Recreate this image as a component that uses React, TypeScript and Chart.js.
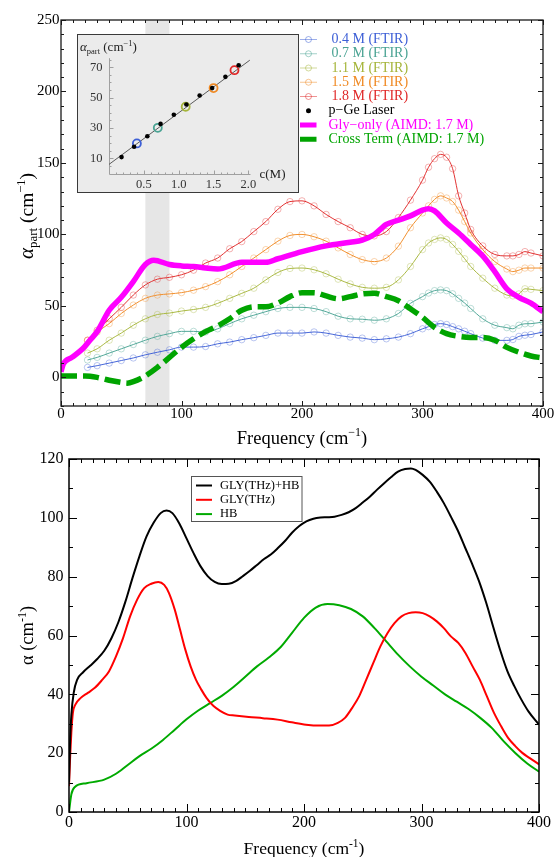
import React, { useEffect, useRef } from "react";
import { Chart, registerables } from "chart.js";

Chart.register(...registerables);

const SERIF = '"Liberation Serif", "Times New Roman", Times, serif';

// ---------------- Top panel data ----------------
const TOP_X_TICKS = [0, 100, 200, 300, 400];
const TOP_Y_TICKS = [0, 50, 100, 150, 200, 250];
const BAND_RANGE = [70, 90];

const GLY_FREQ = [0, 2, 9, 18, 24, 30, 40, 50, 60, 70, 77, 90, 100, 110, 120, 130, 150, 170, 180, 200, 220, 240, 250, 260, 270, 280, 290, 300, 305, 310, 320, 330, 340, 350, 360, 370, 380, 390, 400];
const GLY_ONLY = [4, 9.5, 14, 20, 26, 32, 47, 56, 67, 79, 82, 79, 78, 77.6, 76.5, 75.8, 80.5, 80.5, 83, 88, 92, 94.6, 96, 100, 107, 110, 113, 117, 118, 116.5, 108, 101, 93, 85, 74, 62, 56, 52, 46];

const CROSS_FREQ = [0, 20, 30, 40, 50, 55, 60, 70, 80, 90, 100, 110, 120, 130, 140, 150, 160, 170, 180, 190, 200, 210, 220, 230, 240, 250, 260, 270, 280, 290, 300, 310, 320, 330, 340, 350, 360, 370, 380, 390, 400];
const CROSS_TERM = [1, 1, 0, -2, -3.5, -4, -3, 1, 7, 14, 21, 27, 32, 36, 41, 47, 49.4, 49.4, 52, 56.5, 59.3, 59.3, 57, 55, 56.5, 58.4, 58.8, 56.5, 53.6, 48, 42, 35, 30.6, 28.7, 28, 28, 26, 21, 17.6, 15, 13.6];

const FTIR_FREQ = [22, 30, 40, 50, 60, 70, 80, 90, 100, 110, 120, 130, 140, 150, 160, 170, 180, 190, 200, 210, 220, 230, 240, 250, 260, 270, 280, 290, 300, 305, 310, 315, 320, 325, 330, 335, 340, 350, 360, 370, 375, 380, 385, 390, 400];
const FTIR_04 = [7, 8.2, 10, 11.8, 13.6, 15.8, 17.6, 19.3, 21.2, 21.2, 21.6, 23.5, 24.7, 26.4, 27.8, 29.4, 31, 31, 31, 31.8, 31, 29.4, 28.2, 27.5, 26.4, 27, 28.2, 30.6, 34, 35.5, 37, 37.6, 37, 35.5, 34, 32.3, 30.6, 27.5, 25.9, 25.9, 26.5, 28.7, 29.5, 30, 31.8];
const FTIR_07 = [12.2, 14, 17, 20, 23, 26, 28.7, 30.6, 32.2, 32.2, 31.8, 34, 37.6, 41, 43.5, 46, 48.2, 49, 49, 48.2, 46, 42.8, 41, 40.7, 40, 41, 44.7, 51.8, 56.5, 59, 60.7, 61.2, 60.7, 58.5, 55.3, 52, 48.2, 41, 36.5, 34.8, 34, 36.5, 37.5, 37.6, 38.8];
const FTIR_11 = [17, 20, 26, 31, 36.5, 41, 44, 45, 46.4, 47.5, 49, 51.8, 55.3, 58.8, 62.4, 68.2, 73.4, 76.2, 76.5, 75.3, 72.5, 68.7, 65.4, 63, 62.4, 63, 68.2, 77.6, 89.4, 94, 96.5, 97.6, 96.5, 93, 88.2, 83, 77.6, 69.4, 62.4, 57.6, 57, 58.4, 62, 61.6, 60.7];
const FTIR_15 = [26, 31.8, 37.6, 44.7, 50.6, 55.3, 57.6, 58.4, 59.3, 61, 63.5, 67, 71.8, 77.6, 83.5, 89.4, 95.3, 99.3, 100, 98.4, 95.3, 90.6, 86, 82.4, 81, 83.5, 91.8, 104.7, 115, 120, 124.5, 127, 125.5, 123, 117, 109, 101, 89.4, 81, 75.8, 74, 75, 76.5, 76.5, 76.5];
const FTIR_18 = [26, 33, 41, 49, 57.6, 64.7, 68.7, 70, 71.8, 75, 80, 83.5, 90, 95, 102, 109, 117.6, 123, 123.5, 120, 114, 109, 104.7, 100, 99, 102, 111.8, 124, 138, 147, 153, 156, 154, 146, 127, 115, 103.5, 92, 86, 85, 85, 86, 88, 87, 85];

const FTIR_LABELS = ["0.4 M (FTIR)", "0.7 M (FTIR)", "1.1 M (FTIR)", "1.5 M (FTIR)", "1.8 M (FTIR)"];
const FTIR_COLORS = ["61,95,214", "74,163,147", "165,181,58", "240,138,36", "224,40,40"];

// ---------------- Inset data ----------------
const INSET_X_TICKS = [0.5, 1.0, 1.5, 2.0];
const INSET_Y_TICKS = [10, 30, 50, 70];
const LASER_C = [0.18, 0.36, 0.55, 0.74, 0.93, 1.11, 1.3, 1.48, 1.67, 1.86];
const LASER_A = [10.8, 17.6, 24.6, 32.7, 38.7, 45.5, 51.4, 56.3, 63.7, 71.4];
const FTIR_C = [0.4, 0.7, 1.1, 1.5, 1.8];
const FTIR_A = [19.8, 30.1, 44, 56.3, 68.1];
const FIT_C = [0, 2.02];
const FIT_A = [6, 74.7];

// ---------------- Bottom panel data ----------------
const BOT_X_TICKS = [0, 100, 200, 300, 400];
const BOT_Y_TICKS = [0, 20, 40, 60, 80, 100, 120];

const TOTAL_FREQ = [0, 1, 2, 4, 7, 12, 18, 24, 30, 36, 42, 48, 54, 60, 66, 72, 78, 83, 88, 94, 100, 106, 112, 118, 124, 130, 136, 142, 148, 154, 160, 166, 172, 178, 184, 190, 196, 202, 208, 214, 220, 226, 232, 238, 244, 250, 256, 262, 268, 274, 280, 286, 291, 295, 301, 307, 313, 319, 325, 331, 337, 343, 349, 355, 361, 367, 373, 379, 385, 391, 400];
const TOTAL = [10, 25, 33, 40.5, 45, 47.5, 49.7, 52, 54.8, 59, 64.5, 71.5, 79.5, 87, 93.7, 98.3, 101.6, 102.5, 101.6, 98, 93, 88, 83.5, 80.2, 78.2, 77.5, 77.6, 78.5, 80.2, 82, 84, 86, 87.6, 89.8, 92.2, 95, 97.2, 98.8, 99.7, 100.1, 100.2, 100.4, 101, 101.9, 103.3, 105.2, 107.2, 109.5, 111.7, 113.8, 115.7, 116.6, 116.8, 116.3, 114.6, 112.3, 108.9, 105, 100.4, 95.6, 90, 84.4, 78.4, 71.2, 63, 55, 48, 42.8, 38.2, 34.2, 29.7];

const GLY_FREQ_B = [0, 1, 2, 3.3, 5.4, 10, 16, 22, 28, 34, 40, 46, 52, 58, 64, 70, 76, 81, 85, 90, 94.5, 99, 103.5, 108, 112.6, 117, 123, 129, 135, 141, 153, 165, 177.5, 189.6, 201.7, 213.7, 221.3, 228.8, 234.9, 241, 247, 253, 259, 265, 271, 277, 283, 289, 295, 301, 307, 313, 319, 325, 331.5, 337.5, 343.5, 349.6, 355.6, 361.7, 367.7, 373.7, 379.8, 385.8, 391.8, 400];
const GLY_THZ = [8.8, 19, 27, 33.7, 36.5, 38.8, 40.5, 42.2, 44.8, 47.8, 52.9, 59.1, 66.5, 72.2, 76.1, 77.6, 78.2, 77.2, 74.5, 68.8, 62, 55.2, 49.5, 45, 41.6, 38.8, 36, 34.3, 33.1, 32.8, 32.3, 31.9, 31.4, 30.5, 29.7, 29.4, 29.4, 30.3, 32, 35.4, 39.4, 45, 50.7, 56.3, 60.8, 64.2, 66.5, 67.6, 67.9, 67.6, 66.5, 64.8, 62.5, 59.7, 57.4, 54, 49.5, 45, 39.4, 33.7, 29.2, 25.2, 22.4, 20.1, 18.4, 16.2];

const HB_FREQ = [0, 2, 5, 15, 30, 40, 50, 60, 70, 80, 90, 100, 110, 120, 130, 140, 150, 160, 170, 180, 190, 200, 210, 220, 230, 240, 250, 260, 270, 280, 290, 300, 310, 320, 330, 340, 350, 360, 370, 380, 390, 400];
const HB = [0, 6, 8.5, 9.8, 11, 13, 16, 19, 21.5, 24.5, 28, 31.5, 34.5, 37, 39.5, 42.5, 46, 49.5, 52.5, 56, 61, 66, 69.5, 70.7, 70.3, 69, 66.5, 62.5, 58, 53.5, 49.5, 46, 43, 40, 37.5, 35, 32, 28.5, 24, 20, 16.5, 13.7];

const BOT_LABELS = ["GLY(THz)+HB", "GLY(THz)", "HB"];
const BOT_COLORS = ["#000000", "#ff0000", "#00aa00"];

// ---------------- helpers ----------------
type Seg = { t: string; size: number; italic?: boolean; dy?: number };

function fontOf(s: Seg) {
  return `${s.italic ? "italic " : ""}${s.size}px ${SERIF}`;
}

function drawRich(ctx: CanvasRenderingContext2D, segs: Seg[], x: number, y: number, align: "left" | "center") {
  let w = 0;
  for (const s of segs) {
    ctx.font = fontOf(s);
    w += ctx.measureText(s.t).width;
  }
  let cx = align === "center" ? x - w / 2 : x;
  ctx.textAlign = "left";
  ctx.textBaseline = "alphabetic";
  for (const s of segs) {
    ctx.font = fontOf(s);
    ctx.fillText(s.t, cx, y + (s.dy || 0));
    cx += ctx.measureText(s.t).width;
  }
}

function pts(xs: number[], ys: number[]) {
  return xs.map((x, i) => ({ x, y: ys[i] }));
}

interface FrameCfg {
  xMajor: number[];
  xMinorStep: number;
  yMajor: number[];
  yMinorStep: number;
  majorLen: number;
  minorLen: number;
  frameWidth: number;
  color: string;
  labelFont: string;
  xLabelOffset: number;
  yLabelGap: number;
}

function framePlugin(id: string, cfg: FrameCfg) {
  return {
    id,
    afterDatasetsDraw(chart: any) {
      const { ctx, chartArea: a, scales } = chart;
      const xs = scales.x;
      const ys = scales.y;
      ctx.save();
      ctx.strokeStyle = cfg.color;
      ctx.lineWidth = 1;
      ctx.beginPath();
      for (let v = xs.min; v <= xs.max + 1e-9; v += cfg.xMinorStep) {
        const major = cfg.xMajor.some((m) => Math.abs(m - v) < 1e-6);
        const len = major ? cfg.majorLen : cfg.minorLen;
        const px = Math.round(xs.getPixelForValue(v)) + 0.5;
        ctx.moveTo(px, a.bottom);
        ctx.lineTo(px, a.bottom - len);
        ctx.moveTo(px, a.top);
        ctx.lineTo(px, a.top + len);
      }
      for (let v = ys.min; v <= ys.max + 1e-9; v += cfg.yMinorStep) {
        const major = cfg.yMajor.some((m) => Math.abs(m - v) < 1e-6);
        const len = major ? cfg.majorLen : cfg.minorLen;
        const py = Math.round(ys.getPixelForValue(v)) + 0.5;
        ctx.moveTo(a.left, py);
        ctx.lineTo(a.left + len, py);
        ctx.moveTo(a.right, py);
        ctx.lineTo(a.right - len, py);
      }
      ctx.stroke();
      ctx.lineWidth = cfg.frameWidth;
      ctx.strokeRect(a.left, a.top, a.right - a.left, a.bottom - a.top);

      ctx.fillStyle = "#000";
      ctx.font = cfg.labelFont;
      ctx.textAlign = "center";
      ctx.textBaseline = "middle";
      for (const m of cfg.xMajor) {
        ctx.fillText(String(m), xs.getPixelForValue(m), a.bottom + cfg.xLabelOffset);
      }
      ctx.textAlign = "right";
      for (const m of cfg.yMajor) {
        ctx.fillText(String(m), a.left - cfg.yLabelGap, ys.getPixelForValue(m));
      }
      ctx.restore();
    },
  };
}

// ---------------- Top chart ----------------
function makeTop(canvas: HTMLCanvasElement) {
  const ftirSets = [FTIR_04, FTIR_07, FTIR_11, FTIR_15, FTIR_18].map((arr, i) => ({
    label: FTIR_LABELS[i],
    data: pts(FTIR_FREQ, arr),
    showLine: true,
    borderColor: `rgba(${FTIR_COLORS[i]},0.95)`,
    borderWidth: 1,
    pointRadius: 3.2,
    pointStyle: "circle",
    pointBackgroundColor: "rgba(0,0,0,0)",
    pointBorderColor: `rgba(${FTIR_COLORS[i]},0.45)`,
    pointBorderWidth: 0.8,
    cubicInterpolationMode: "monotone",
    order: 5 - i + 2,
  }));

  const bandPlugin = {
    id: "band",
    beforeDatasetsDraw(chart: any) {
      const { ctx, chartArea: a, scales } = chart;
      const x0 = scales.x.getPixelForValue(BAND_RANGE[0]);
      const x1 = scales.x.getPixelForValue(BAND_RANGE[1]);
      ctx.save();
      ctx.fillStyle = "#e6e6e6";
      ctx.fillRect(x0, a.top, x1 - x0, a.bottom - a.top);
      ctx.restore();
    },
  };

  const titlesPlugin = {
    id: "topTitles",
    afterDraw(chart: any) {
      const { ctx, chartArea: a } = chart;
      ctx.save();
      ctx.fillStyle = "#000";
      drawRich(
        ctx,
        [
          { t: "Frequency (cm", size: 18.5 },
          { t: "−1", size: 12, dy: -7.5 },
          { t: ")", size: 18.5 },
        ],
        (a.left + a.right) / 2,
        a.bottom + 37.5,
        "center"
      );
      ctx.translate(26.5, (a.top + a.bottom) / 2 + 3);
      ctx.rotate(-Math.PI / 2);
      drawRich(
        ctx,
        [
          { t: "α", size: 21, italic: true },
          { t: "part", size: 13, dy: 4.5 },
          { t: " (cm", size: 19.5 },
          { t: "−1", size: 12.5, dy: -8 },
          { t: ")", size: 19.5 },
        ],
        0,
        6,
        "center"
      );
      ctx.restore();
    },
  };

  const legendPlugin = {
    id: "topLegend",
    afterDraw(chart: any) {
      const { ctx } = chart;
      const y0 = 39.5;
      const step = 14.25;
      ctx.save();
      ctx.textBaseline = "middle";
      ctx.textAlign = "left";
      ctx.font = `14px ${SERIF}`;
      FTIR_LABELS.forEach((lab, i) => {
        const y = y0 + i * step;
        ctx.strokeStyle = `rgba(${FTIR_COLORS[i]},0.5)`;
        ctx.lineWidth = 1;
        ctx.beginPath();
        ctx.moveTo(300, y);
        ctx.lineTo(317, y);
        ctx.stroke();
        ctx.beginPath();
        ctx.arc(308.5, y, 3, 0, Math.PI * 2);
        ctx.stroke();
        ctx.fillStyle = `rgb(${FTIR_COLORS[i]})`;
        ctx.fillText(lab, 331.5, y);
      });
      let y = y0 + 5 * step;
      ctx.fillStyle = "#000";
      ctx.beginPath();
      ctx.arc(308.5, y, 2.5, 0, Math.PI * 2);
      ctx.fill();
      ctx.fillText("p−Ge Laser", 328.5, y);
      y += step;
      ctx.fillStyle = "#ff00ff";
      ctx.fillRect(300, y - 2.5, 16.5, 5);
      ctx.fillText("Gly−only (AIMD: 1.7 M)", 328.5, y);
      y += step;
      ctx.fillStyle = "#00a400";
      ctx.fillRect(300, y - 2.5, 16.5, 5);
      ctx.fillText("Cross Term (AIMD: 1.7 M)", 328.5, y);
      ctx.restore();
    },
  };

  return new Chart(canvas, {
    type: "scatter",
    data: {
      datasets: [
        {
          label: "Gly-only (AIMD: 1.7 M)",
          data: pts(GLY_FREQ, GLY_ONLY),
          showLine: true,
          borderColor: "#ff00ff",
          borderWidth: 5.5,
          pointRadius: 0,
          cubicInterpolationMode: "monotone",
          order: 0,
        },
        {
          label: "Cross Term (AIMD: 1.7 M)",
          data: pts(CROSS_FREQ, CROSS_TERM),
          showLine: true,
          borderColor: "#00a400",
          borderWidth: 5.5,
          borderDash: [16, 6],
          borderCapStyle: "butt",
          pointRadius: 0,
          cubicInterpolationMode: "monotone",
          order: 1,
        },
        ...ftirSets,
      ] as any,
    },
    options: {
      responsive: false,
      animation: false,
      devicePixelRatio: 1,
      events: [],
      layout: { padding: { left: 61, top: 20, right: 14, bottom: 46 } },
      scales: {
        x: { type: "linear", min: 0, max: 400, display: false },
        y: { type: "linear", min: -20, max: 250, display: false },
      },
      plugins: { legend: { display: false }, tooltip: { enabled: false } },
    },
    plugins: [
      bandPlugin,
      framePlugin("topFrame", {
        xMajor: TOP_X_TICKS,
        xMinorStep: 10,
        yMajor: TOP_Y_TICKS,
        yMinorStep: 10,
        majorLen: 5,
        minorLen: 3,
        frameWidth: 1.3,
        color: "#1a1a1a",
        labelFont: `15px ${SERIF}`,
        xLabelOffset: 8,
        yLabelGap: 1.5,
      }),
      titlesPlugin,
      legendPlugin,
    ] as any,
  });
}

// ---------------- Inset chart ----------------
function makeInset(canvas: HTMLCanvasElement) {
  const insetPlugin = {
    id: "insetDeco",
    beforeDraw(chart: any) {
      const { ctx, width, height } = chart;
      ctx.save();
      ctx.fillStyle = "#ebebeb";
      ctx.fillRect(0, 0, width, height);
      ctx.strokeStyle = "#3a3a3a";
      ctx.lineWidth = 1;
      ctx.strokeRect(0.5, 0.5, width - 1, height - 1);
      ctx.restore();
    },
    beforeDatasetsDraw(chart: any) {
      const { ctx, chartArea: a, scales } = chart;
      const xs = scales.x;
      const ys = scales.y;
      const x0 = Math.round(xs.getPixelForValue(0)) + 0.5;
      const y0 = Math.round(ys.getPixelForValue(0)) + 0.5;
      ctx.save();
      ctx.strokeStyle = "#a0a0a0";
      ctx.lineWidth = 1;
      ctx.beginPath();
      ctx.moveTo(x0, y0);
      ctx.lineTo(x0, a.top);
      ctx.moveTo(x0, y0);
      ctx.lineTo(a.right, y0);
      for (let v = 0.1; v <= 2.0001; v += 0.1) {
        const major = INSET_X_TICKS.some((m) => Math.abs(m - v) < 1e-6);
        const px = Math.round(xs.getPixelForValue(v)) + 0.5;
        ctx.moveTo(px, y0);
        ctx.lineTo(px, y0 - (major ? 4 : 2));
      }
      for (let v = 5; v <= 75.0001; v += 5) {
        const major = INSET_Y_TICKS.some((m) => Math.abs(m - v) < 1e-6);
        const py = Math.round(ys.getPixelForValue(v)) + 0.5;
        ctx.moveTo(x0, py);
        ctx.lineTo(x0 + (major ? 4 : 2), py);
      }
      ctx.stroke();
      ctx.fillStyle = "#333";
      ctx.font = `12.5px ${SERIF}`;
      ctx.textAlign = "center";
      ctx.textBaseline = "middle";
      for (const m of INSET_X_TICKS) {
        ctx.fillText(m.toFixed(1), xs.getPixelForValue(m), y0 + 10);
      }
      ctx.textAlign = "right";
      for (const m of INSET_Y_TICKS) {
        ctx.fillText(String(m), x0 - 7, ys.getPixelForValue(m));
      }
      ctx.fillStyle = "#222";
      drawRich(ctx, [{ t: "c(M)", size: 13 }], a.right + 9, y0 + 3.5, "left");
      drawRich(
        ctx,
        [
          { t: "α", size: 13, italic: true },
          { t: "part", size: 8.5, dy: 3 },
          { t: " (cm", size: 13 },
          { t: "−1", size: 8.5, dy: -5 },
          { t: ")", size: 13 },
        ],
        3,
        17,
        "left"
      );
      ctx.restore();
    },
  };

  return new Chart(canvas, {
    type: "scatter",
    data: {
      datasets: [
        {
          label: "fit",
          data: pts(FIT_C, FIT_A),
          showLine: true,
          borderColor: "#4a4a4a",
          borderWidth: 0.9,
          pointRadius: 0,
          order: 3,
        },
        {
          label: "FTIR",
          data: pts(FTIR_C, FTIR_A),
          pointRadius: 4,
          pointBorderWidth: 1.8,
          pointBackgroundColor: "rgba(0,0,0,0)",
          pointBorderColor: FTIR_COLORS.map((c) => `rgb(${c})`),
          order: 2,
        },
        {
          label: "p-Ge Laser",
          data: pts(LASER_C, LASER_A),
          pointRadius: 2.3,
          pointBorderWidth: 0,
          pointBackgroundColor: "#000",
          order: 1,
        },
      ] as any,
    },
    options: {
      responsive: false,
      animation: false,
      devicePixelRatio: 1,
      events: [],
      layout: { padding: { left: 32, top: 24.2, right: 48.5, bottom: 19.5 } },
      scales: {
        x: { type: "linear", min: 0, max: 2.03, display: false },
        y: { type: "linear", min: 0, max: 76, display: false },
      },
      elements: { point: { hitRadius: 0 } },
      plugins: { legend: { display: false }, tooltip: { enabled: false } },
    },
    plugins: [insetPlugin] as any,
  });
}

// ---------------- Bottom chart ----------------
function makeBottom(canvas: HTMLCanvasElement) {
  const titlesPlugin = {
    id: "botTitles",
    afterDraw(chart: any) {
      const { ctx, chartArea: a } = chart;
      ctx.save();
      ctx.fillStyle = "#000";
      drawRich(
        ctx,
        [
          { t: "Frequency (cm", size: 17.5 },
          { t: "-1", size: 11.5, dy: -7 },
          { t: ")", size: 17.5 },
        ],
        (a.left + a.right) / 2,
        a.bottom + 42,
        "center"
      );
      ctx.translate(27, (a.top + a.bottom) / 2);
      ctx.rotate(-Math.PI / 2);
      drawRich(
        ctx,
        [
          { t: "α (cm", size: 18.5 },
          { t: "-1", size: 12, dy: -7.5 },
          { t: ")", size: 18.5 },
        ],
        0,
        6,
        "center"
      );
      ctx.restore();

      // legend box
      ctx.save();
      ctx.fillStyle = "#fff";
      ctx.fillRect(191, 36, 111, 45.5);
      ctx.strokeStyle = "#555";
      ctx.lineWidth = 1;
      ctx.strokeRect(191.5, 36.5, 110.5, 45);
      ctx.font = `12.5px ${SERIF}`;
      ctx.textAlign = "left";
      ctx.textBaseline = "middle";
      BOT_LABELS.forEach((lab, i) => {
        const y = 45.5 + i * 14.3;
        ctx.strokeStyle = BOT_COLORS[i];
        ctx.lineWidth = 2;
        ctx.beginPath();
        ctx.moveTo(196, y);
        ctx.lineTo(212, y);
        ctx.stroke();
        ctx.fillStyle = "#000";
        ctx.fillText(lab, 220, y);
      });
      ctx.restore();
    },
  };

  const series = [
    pts(TOTAL_FREQ, TOTAL),
    pts(GLY_FREQ_B, GLY_THZ),
    pts(HB_FREQ, HB),
  ];

  return new Chart(canvas, {
    type: "scatter",
    data: {
      datasets: series.map((d, i) => ({
        label: BOT_LABELS[i],
        data: d,
        showLine: true,
        borderColor: BOT_COLORS[i],
        borderWidth: 2,
        pointRadius: 0,
        cubicInterpolationMode: "monotone",
      })) as any,
    },
    options: {
      responsive: false,
      animation: false,
      devicePixelRatio: 1,
      events: [],
      layout: { padding: { left: 69, top: 19, right: 18, bottom: 45 } },
      scales: {
        x: { type: "linear", min: 0, max: 400, display: false },
        y: { type: "linear", min: 0, max: 120, display: false },
      },
      plugins: { legend: { display: false }, tooltip: { enabled: false } },
    },
    plugins: [
      framePlugin("botFrame", {
        xMajor: BOT_X_TICKS,
        xMinorStep: 10,
        yMajor: BOT_Y_TICKS,
        yMinorStep: 10,
        majorLen: 8,
        minorLen: 4,
        frameWidth: 1.5,
        color: "#000",
        labelFont: `16px ${SERIF}`,
        xLabelOffset: 11,
        yLabelGap: 5.5,
      }),
      titlesPlugin,
    ] as any,
  });
}

export default function App() {
  const topRef = useRef<HTMLCanvasElement>(null);
  const insetRef = useRef<HTMLCanvasElement>(null);
  const botRef = useRef<HTMLCanvasElement>(null);

  useEffect(() => {
    const charts: Chart[] = [];
    if (topRef.current) charts.push(makeTop(topRef.current));
    if (insetRef.current) charts.push(makeInset(insetRef.current));
    if (botRef.current) charts.push(makeBottom(botRef.current));
    return () => charts.forEach((c) => c.destroy());
  }, []);

  return (
    <div style={{ position: "absolute", left: 0, top: 0, width: 557, height: 857, background: "#fff" }}>
      <canvas ref={topRef} width={557} height={452} style={{ position: "absolute", left: 0, top: 0, width: 557, height: 452 }} />
      <canvas ref={botRef} width={557} height={417} style={{ position: "absolute", left: 0, top: 440, width: 557, height: 417 }} />
      <canvas ref={insetRef} width={222} height={159} style={{ position: "absolute", left: 77, top: 34, width: 222, height: 159 }} />
    </div>
  );
}
